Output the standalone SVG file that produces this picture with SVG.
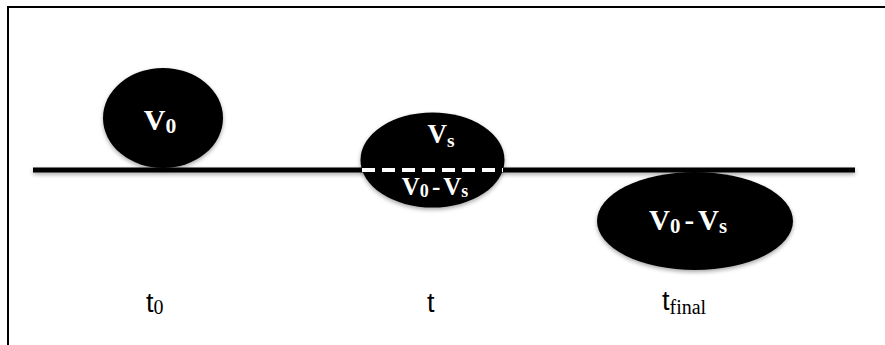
<svg xmlns="http://www.w3.org/2000/svg" width="885" height="345" viewBox="0 0 885 345">
  <defs>
    <filter id="shadow" x="-20%" y="-50%" width="140%" height="250%">
      <feDropShadow dx="0" dy="2" stdDeviation="2" flood-color="#000" flood-opacity="0.35"/>
    </filter>
  </defs>
  <style>
    .frame { fill: none; stroke: #000; stroke-width: 2; }
    .axis { fill: #000; filter: url(#shadow); }
    .blob { fill: #000; filter: url(#shadow); }
    .dash { stroke: #fff; stroke-width: 4; stroke-dasharray: 13 7; }
    .vol { fill: #fff; font-family: "Liberation Serif", "DejaVu Serif", serif; font-weight: bold; text-anchor: middle; }
    .sub { font-size: 0.72em; }
    .time { fill: #000; font-family: "Liberation Sans", Arial, sans-serif; font-size: 27px; }
    .tsub { font-family: "Liberation Serif", serif; font-size: 20px; }
  </style>

  <!-- frame -->
  <path class="frame" d="M8,345 V7 H885"/>

  <!-- connectors: the surface line -->
  <g id="connectors">
    <rect class="axis" x="33" y="167.5" width="822" height="5"/>
  </g>

  <!-- drop at t0 resting on the surface -->
  <g id="drop-t0">
    <ellipse class="blob" cx="163" cy="118" rx="60" ry="50"/>
    <text class="vol" x="160" y="130" font-size="30">V<tspan class="sub" dy="3">0</tspan></text>
  </g>

  <!-- drop at t, partly sunk -->
  <g id="drop-t">
    <ellipse class="blob" cx="432.5" cy="160" rx="72" ry="47.5"/>
    <line class="dash" x1="362" y1="170" x2="503" y2="170"/>
    <text class="vol" x="441" y="143" font-size="27">V<tspan class="sub" dy="4">s</tspan></text>
    <text class="vol" x="435" y="195" font-size="25" word-spacing="-3">V<tspan class="sub" dy="2">0</tspan><tspan dy="-2"> - V</tspan><tspan class="sub" dy="2">s</tspan></text>
  </g>

  <!-- drop at tfinal, fully below -->
  <g id="drop-tfinal">
    <ellipse class="blob" cx="695" cy="221" rx="98" ry="49"/>
    <text class="vol" x="688" y="230" font-size="29" word-spacing="-3">V<tspan class="sub" dy="3">0</tspan><tspan dy="-3"> - V</tspan><tspan class="sub" dy="3">s</tspan></text>
  </g>

  <!-- time labels -->
  <g id="label-t0">
    <text class="time" x="146" y="312">t<tspan class="tsub" dy="2">0</tspan></text>
  </g>
  <g id="label-t">
    <text class="time" x="427" y="312">t</text>
  </g>
  <g id="label-tfinal">
    <text class="time" x="662" y="310">t<tspan class="tsub" dy="4">final</tspan></text>
  </g>
</svg>
